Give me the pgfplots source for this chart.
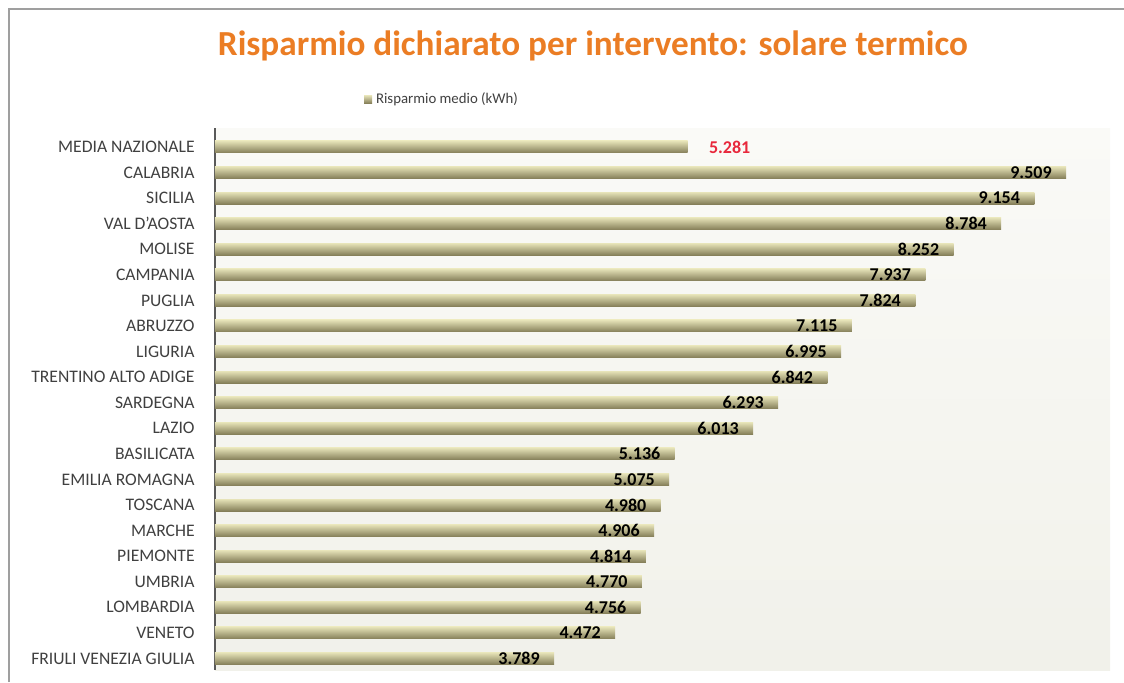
\documentclass[border=0pt]{standalone}
\usepackage{pgfplots}
\pgfplotsset{compat=1.18}
\usepackage{pgfplotstable}
\usepackage{fontspec}
\setmainfont{Carlito}
\definecolor{titleorange}{HTML}{EB7D24}
\definecolor{medred}{HTML}{E8283C}
\definecolor{txtgray}{HTML}{404040}
\definecolor{bartop}{HTML}{E6E3B8}
\definecolor{barmid}{HTML}{C0B984}
\definecolor{barbot}{HTML}{847E58}
\definecolor{bgtop}{HTML}{FAFAF7}
\definecolor{bgbot}{HTML}{F1F1EA}
\pgfplotstableread{
y val
0 5281
}\media
\pgfplotstableread{
y val
1 9509
2 9154
3 8784
4 8252
5 7937
6 7824
7 7115
8 6995
9 6842
10 6293
11 6013
12 5136
13 5075
14 4980
15 4906
16 4814
17 4770
18 4756
19 4472
20 3789
}\regioni
\begin{document}
\begin{tikzpicture}
\useasboundingbox (-107.5pt,-6pt) rectangle (454.5pt,335pt);
\draw[gray!75, line width=1.2pt] (-103pt,-6pt) -- (-103pt,330.5pt) -- (454.5pt,330.5pt);
\begin{axis}[
  at={(0,0)}, anchor=south west,
  scale only axis, width=447.5pt, height=271pt,
  xbar, bar width=6pt, bar shift=0pt,
  xmin=0, xmax=10000, ymin=-0.74, ymax=20.45, y dir=reverse,
  axis x line=none, axis y line*=left,
  y axis line style={draw=gray!70!black, line width=0.6pt},
  ytick={0,...,20},
  yticklabels={MEDIA NAZIONALE,CALABRIA,SICILIA,VAL D'AOSTA,MOLISE,CAMPANIA,PUGLIA,ABRUZZO,LIGURIA,TRENTINO ALTO ADIGE,SARDEGNA,LAZIO,BASILICATA,EMILIA ROMAGNA,TOSCANA,MARCHE,PIEMONTE,UMBRIA,LOMBARDIA,VENETO,FRIULI VENEZIA GIULIA},
  major tick length=0pt,
  yticklabel style={font=\fontsize{8.8}{10}\selectfont, text=txtgray, inner sep=0pt, xshift=-10pt},
  axis background/.style={shade, top color=bgtop, bottom color=bgbot},
  title={Risparmio dichiarato per intervento: solare termico},
  title style={at={(0.4223,1.130)}, anchor=center, yshift=0pt, font=\bfseries\fontsize{17.6}{19}\selectfont, text=titleorange},
  legend style={at={(0.2547,1.053)}, anchor=center, draw=none, fill=none, font=\fontsize{7.4}{9}\selectfont, text=txtgray, inner sep=0pt},
  legend image code/.code={\shade[top color=bartop, middle color=barmid, bottom color=barbot] (0pt,-2pt) rectangle (4pt,2pt);},
  point meta=x,
  clip=false,
]
\addplot[draw=none, top color=bartop, middle color=barmid, bottom color=barbot,
  nodes near coords={\pgfmathprintnumber[1000 sep={.}, assume math mode=true]{\pgfplotspointmeta}},
  every node near coord/.append style={anchor=west, xshift=10.5pt, inner sep=0pt, text=medred, font=\bfseries\fontsize{9}{10}\selectfont}]
  table[x=val, y=y] {\media};
\addlegendentry{Risparmio medio (kWh)}
\pgfplotsinvokeforeach{0,...,19}{
\addplot[forget plot, draw=none, top color=bartop, middle color=barmid, bottom color=barbot,
  x filter/.expression={\coordindex==#1 ? x : nan},
  nodes near coords={\pgfmathprintnumber[1000 sep={.}, assume math mode=true]{\pgfplotspointmeta}},
  every node near coord/.append style={anchor=east, xshift=-7pt, inner sep=0pt, text=black, font=\bfseries\fontsize{9}{10}\selectfont}]
  table[x=val, y=y] {\regioni};
}
\end{axis}
\end{tikzpicture}
\end{document}
